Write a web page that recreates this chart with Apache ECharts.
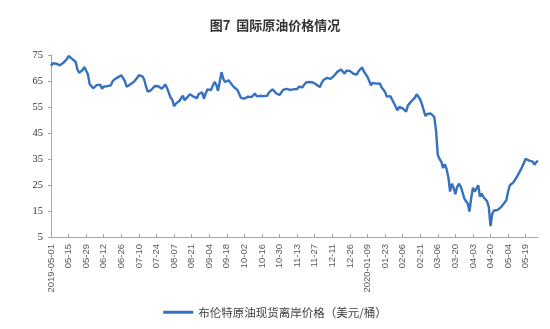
<!DOCTYPE html>
<html>
<head>
<meta charset="utf-8">
<script src="https://cdn.jsdelivr.net/npm/echarts@6/dist/echarts.min.js"></script>
<style>html,body{margin:0;padding:0;background:#fff;}#c{width:550px;height:329px;}</style>
</head>
<body>
<div id="c"></div>
<script>
var titleText = '图7  国际原油价格情况';
var seriesName = '布伦特原油现货离岸价格（美元/桶）';
var tickLabels = ['2019-05-01','05-15','05-29','06-12','06-26','07-10','07-24','08-07','08-21','09-04','09-18','10-02','10-16','10-30','11-13','11-27','12-11','12-26','2020-01-09','01-23','02-06','02-21','03-06','03-20','04-03','04-20','05-04','05-19'];
var yTicks = [5,15,25,35,45,55,65,75];
var brent = [
70.9,71.8,72.1,71.7,71.4,71.0,71.2,72.0,72.4,73.4,
74.6,74.0,73.5,72.8,72.4,69.5,68.2,68.0,69.2,70.4,
70.0,67.5,63.8,63.5,62.2,62.9,63.4,64.1,63.6,62.0,
62.9,63.2,63.0,63.3,63.3,64.8,65.6,65.5,66.4,66.8,
67.2,67.4,65.0,62.8,63.5,63.7,64.0,64.6,65.3,66.2,
67.3,67.0,66.8,65.6,63.0,60.9,61.2,61.5,62.2,63.1,
63.6,63.0,62.5,62.0,62.8,63.7,62.3,60.5,58.6,57.8,
55.3,56.3,56.7,57.3,57.8,59.4,57.6,58.2,59.1,59.9,
59.5,59.0,58.6,58.4,60.0,60.5,60.6,58.2,60.2,61.8,
62.0,61.5,63.2,64.6,63.6,61.2,61.0,68.4,65.8,64.6,
64.9,65.3,64.6,63.5,62.7,62.1,61.6,60.1,58.5,57.8,
58.2,58.6,59.0,59.3,58.8,59.4,60.2,59.1,59.0,59.3,
59.5,59.2,59.6,59.3,60.6,61.2,61.8,61.4,60.3,60.8,
59.6,60.2,61.6,61.8,62.0,61.7,61.6,61.9,61.8,61.6,
61.9,62.8,62.4,62.6,63.5,64.4,64.7,64.6,64.6,64.4,
64.1,63.6,63.3,62.7,64.3,65.4,65.9,66.2,66.5,65.8,
66.0,67.0,67.6,68.6,69.1,69.4,68.9,67.8,69.0,69.2,
68.9,68.3,67.8,67.7,67.5,68.9,69.6,70.2,68.6,67.6,
66.6,65.9,63.4,64.3,64.2,64.0,64.2,64.1,62.6,61.7,
60.8,59.0,58.9,59.2,57.9,57.6,55.2,53.7,55.0,54.8,
54.5,54.9,53.2,55.6,56.4,57.2,57.4,58.6,59.9,59.2,
57.9,56.0,55.8,51.5,52.3,52.7,52.5,52.2,51.2,46.0,
36.5,35.0,34.0,31.5,33.0,31.2,28.0,22.5,25.5,24.0,
21.5,24.2,25.5,24.5,22.4,20.0,18.8,18.0,14.8,20.0,
24.0,22.4,23.6,24.9,20.5,21.7,20.3,19.7,18.8,16.6,
9.2,14.0,15.2,15.4,15.4,15.6,16.5,17.4,18.0,19.1,
22.5,24.9,24.3,26.0,27.1,28.1,29.4,30.6,32.0,33.5,
35.1,35.0,34.4,34.3,34.0,32.8,33.8,34.3
];
var LABEL_STEP = 10;
var categories = brent.map(function(v, i){
  return (i % LABEL_STEP === 0 && tickLabels[i / LABEL_STEP]) ? tickLabels[i / LABEL_STEP] : ('#' + i);
});

var chart = echarts.init(document.getElementById('c'), null, {renderer: 'canvas'});
chart.setOption({
  animation: false,
  backgroundColor: '#ffffff',
  title: {
    text: titleText,
    left: 'center',
    top: 14,
    textStyle: {fontFamily: 'Noto Sans CJK SC', fontSize: 13, fontWeight: 'bold', color: '#333'}
  },
  legend: {
    bottom: 6,
    left: 'center',
    icon: 'rect',
    itemWidth: 30,
    itemHeight: 3,
    itemGap: 10,
    textStyle: {fontFamily: 'Noto Sans CJK SC', fontSize: 11.5, color: '#404040'},
    data: [seriesName]
  },
  grid: {left: 51, right: 12, top: 55, bottom: 92},
  xAxis: {
    type: 'category',
    data: categories,
    boundaryGap: false,
    axisLine: {lineStyle: {color: '#a6a6a6', width: 1}},
    axisTick: {show: true, inside: true, length: 3, interval: LABEL_STEP - 1, lineStyle: {color: '#a6a6a6'}},
    axisLabel: {
      interval: LABEL_STEP - 1,
      rotate: 90,
      margin: 7,
      fontSize: 9.5,
      color: '#595959',
      fontFamily: 'Liberation Sans',
      hideOverlap: false,
      formatter: function(v){ return v.charAt(0) === '#' ? '' : v; }
    },
    splitLine: {show: false}
  },
  yAxis: {
    type: 'value',
    min: 5,
    max: 75,
    axisLine: {show: true, lineStyle: {color: '#a6a6a6', width: 1}},
    axisTick: {show: true, length: 3, customValues: yTicks, lineStyle: {color: '#a6a6a6'}},
    axisLabel: {customValues: yTicks, fontSize: 10.5, color: '#333', fontFamily: 'Liberation Serif', margin: 8},
    splitLine: {show: false}
  },
  series: [{
    name: seriesName,
    type: 'line',
    data: brent,
    showSymbol: false,
    symbol: 'none',
    lineStyle: {color: '#3671c0', width: 2.4},
    itemStyle: {color: '#3671c0'}
  }]
});
</script>
</body>
</html>
